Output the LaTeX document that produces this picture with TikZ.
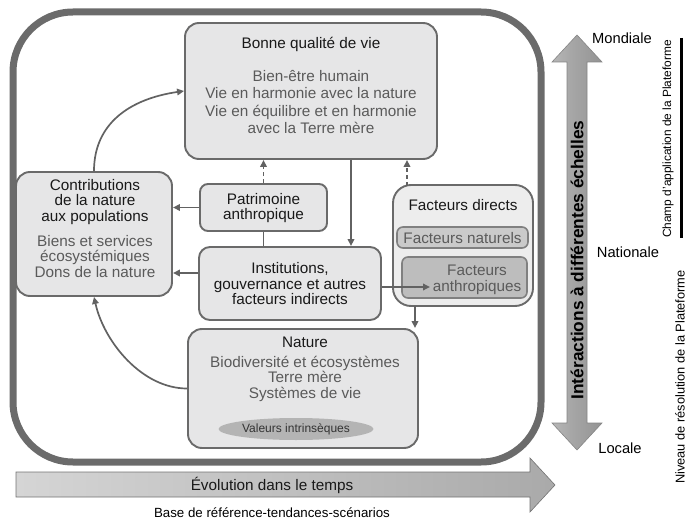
\documentclass[tikz,border=0pt]{standalone}
\usepackage{fontspec}
\setmainfont{Liberation Sans}
\usetikzlibrary{arrows.meta,calc,shapes.geometric}
\definecolor{framec}{HTML}{6B6B6B}
\definecolor{boxline}{HTML}{6A6A6A}
\definecolor{boxfill}{HTML}{E6E6E7}
\definecolor{dirfill}{HTML}{EDEDED}
\definecolor{natfill}{HTML}{CACACA}
\definecolor{antfill}{HTML}{BDBDBD}
\definecolor{subgray}{HTML}{5A5A5A}
\definecolor{arrc}{HTML}{626262}
\definecolor{ellfill}{HTML}{B4B4B4}
\definecolor{bigedge}{HTML}{858585}
\pgfdeclarehorizontalshading{evolsh}{100bp}{color(0bp)=(black!35); color(12bp)=(black!12); color(100bp)=(black!42)}
\pgfdeclarehorizontalshading{vertsh}{100bp}{color(0bp)=(black!20); color(45bp)=(black!35); color(100bp)=(black!48)}
\begin{document}
\begin{tikzpicture}[x=1pt,y=-1pt,
  box/.style={draw=boxline, line width=1.9pt, fill=boxfill, rounded corners=14pt, inner sep=0pt},
  arr/.style={draw=arrc, line width=1.7pt, -{Triangle[length=7pt,width=6.5pt]}},
  darr/.style={arr, dash pattern=on 4pt off 3pt},
  plain/.style={draw=arrc, line width=1.7pt},
  txt/.style={font=\fontsize{15.3}{15.5}\selectfont, align=center, inner sep=0pt, text=black!90},
  sub/.style={txt, text=subgray}
]
\useasboundingbox (0,0) rectangle (690,521);

% outer frame
\draw[framec, line width=7pt, rounded corners=60pt] (13,12) rectangle (541,462);

% boxes
\node[box, minimum width=252pt, minimum height=136pt] (bonne) at (311,91) {};
\node[box, minimum width=156pt, minimum height=124pt] (contrib) at (94,234) {};
\node[box, rounded corners=8pt, minimum width=127pt, minimum height=47pt] (patri) at (263.5,207.5) {};
\node[box, rounded corners=11pt, minimum width=182pt, minimum height=73pt] (inst) at (290,283.5) {};
\node[box, fill=dirfill, rounded corners=18pt, minimum width=140pt, minimum height=121pt] (directs) at (463,245.5) {};
\node[draw=black!50, line width=1.6pt, fill=natfill, rounded corners=6pt, minimum width=131pt, minimum height=21pt, inner sep=0pt] (natur) at (462.5,237.5) {};
\node[draw=black!50, line width=1.6pt, fill=antfill, rounded corners=6pt, minimum width=125pt, minimum height=41pt, inner sep=0pt] (anthro) at (464.5,277.5) {};
\node[box, minimum width=230pt, minimum height=119pt] (nature) at (303,388.5) {};
\node[ellipse, fill=ellfill, minimum width=155pt, minimum height=22pt, inner sep=0pt,
      font=\fontsize{12}{12}\selectfont, text=black!80] (valeurs) at (296,429) {Valeurs intrinsèques};

% texts
\node[txt] (bonnet) at (311,44) {Bonne qualité de vie};
\node[sub, font=\fontsize{15.3}{17.3}\selectfont] (bonneb) at (311,102) {Bien-être humain\\Vie en harmonie avec la nature\\Vie en équilibre et en harmonie\\avec la Terre mère};
\node[txt] (contribt) at (95,202) {Contributions\\de la nature\\aux populations};
\node[sub] (contribb) at (95,256.5) {Biens et services\\écosystémiques\\Dons de la nature};
\node[txt] (patrit) at (263.5,208) {Patrimoine\\anthropique};
\node[txt] (instt) at (290,284) {Institutions,\\gouvernance et autres\\facteurs indirects};
\node[txt] (dirt) at (463,205) {Facteurs directs};
\node[sub] (naturt) at (462.5,238) {Facteurs naturels};
\node[sub] (anthrot) at (477,280) {Facteurs\\anthropiques};
\node[txt] (naturet) at (305,342) {Nature};
\node[sub] (natureb) at (305,378.5) {Biodiversité et écosystèmes\\Terre mère\\Systèmes de vie};

% connectors
\draw[darr] (patri.north) -- (patri.north |- bonne.south);
\coordinate (bsrc) at ($(bonne.south)+(40,0)$);
\draw[arr] (bsrc) -- (bsrc |- inst.north);
\coordinate (dsrc) at (407,186);
\draw[darr] (dsrc) -- (dsrc |- bonne.south);
\draw[plain] (patri.south) -- (patri.south |- inst.north);
\draw[arr] (patri.west) -- (patri.west -| contrib.east);
\coordinate (isrc) at ($(inst.west)+(0,-10.5)$);
\draw[arr] (isrc) -- (isrc -| contrib.east);
\coordinate (atip) at (430,287);
\draw[arr] (inst.east |- atip) -- (atip);
\coordinate (fsrc) at (415,306);
\draw[arr] (fsrc) -- (fsrc |- nature.north);
\draw[arr] (contrib.north) .. controls +(0,-47) and +(-55,8) .. (bonne.west);
\draw[arr] (nature.west) .. controls +(-45,0) and +(10,45) .. (contrib.south);

% vertical scale arrow
\shade[shading=vertsh, draw=bigedge, line width=0.6pt]
  (577,35) -- (602,62) -- (587,62) -- (587,423) -- (602,423) -- (577,450)
  -- (552,423) -- (567,423) -- (567,62) -- (552,62) -- cycle;
\node[rotate=90, font=\fontsize{17.3}{17.3}\selectfont\bfseries, inner sep=0pt] (inter) at (577,260) {Intéractions à différentes échelles};
\node[font=\fontsize{14.7}{14.7}\selectfont, inner sep=0pt] (mond) at (622,38) {Mondiale};
\node[font=\fontsize{14.7}{14.7}\selectfont, inner sep=0pt] (nat) at (628,252) {Nationale};
\node[font=\fontsize{14.7}{14.7}\selectfont, inner sep=0pt] (loc) at (620,448) {Locale};

% right side labels
\node[rotate=90, font=\fontsize{11.9}{11.9}\selectfont, inner sep=0pt] (champ) at (668,139) {Champ d'application de la Plateforme};
\draw[black, line width=3pt] (681,38) -- (681,238);
\node[rotate=90, font=\fontsize{12.8}{12.8}\selectfont, inner sep=0pt] (niveau) at (680,377) {Niveau de résolution de la Plateforme};

% time arrow
\shade[shading=evolsh, draw=black!55, line width=0.6pt]
  (16,472) -- (530,472) -- (530,458) -- (555,485) -- (530,512) -- (530,497) -- (16,497) -- cycle;
\node[txt] (evol) at (272,485) {Évolution dans le temps};
\node[font=\fontsize{13.3}{13.3}\selectfont, inner sep=0pt] (base) at (272,513) {Base de référence-tendances-scénarios};
\end{tikzpicture}
\end{document}
